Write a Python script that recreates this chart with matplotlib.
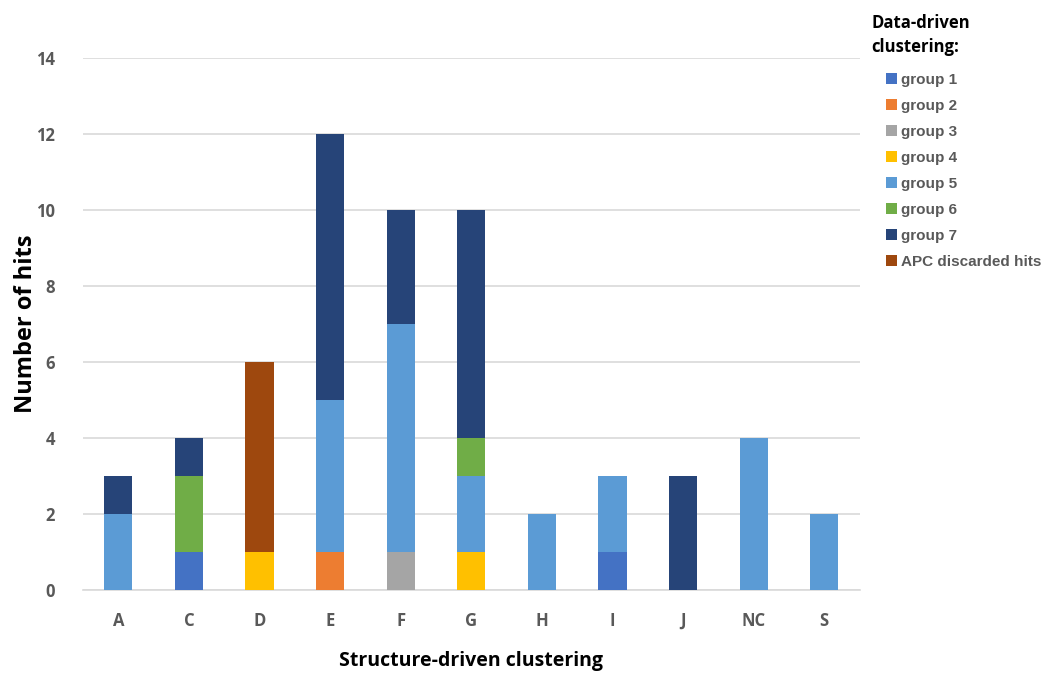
import matplotlib
matplotlib.use("Agg")
import matplotlib.pyplot as plt
from matplotlib.patches import Patch
import numpy as np

categories = ["A", "C", "D", "E", "F", "G", "H", "I", "J", "NC", "S"]
series_names = ["group 1", "group 2", "group 3", "group 4", "group 5", "group 6", "group 7", "APC discarded hits"]
group1 = [0, 1, 0, 0, 0, 0, 0, 1, 0, 0, 0]
group2 = [0, 0, 0, 1, 0, 0, 0, 0, 0, 0, 0]
group3 = [0, 0, 0, 0, 1, 0, 0, 0, 0, 0, 0]
group4 = [0, 0, 1, 0, 0, 1, 0, 0, 0, 0, 0]
group5 = [2, 0, 0, 4, 6, 2, 2, 2, 0, 4, 2]
group6 = [0, 2, 0, 0, 0, 1, 0, 0, 0, 0, 0]
group7 = [1, 1, 0, 7, 3, 6, 0, 0, 3, 0, 0]
apc = [0, 0, 5, 0, 0, 0, 0, 0, 0, 0, 0]
colors = ["#4472C4", "#ED7D31", "#A5A5A5", "#FFC000", "#5B9BD5", "#70AD47", "#264478", "#9E480E"]
yticks = [0, 2, 4, 6, 8, 10, 12, 14]

series = [group1, group2, group3, group4, group5, group6, group7, apc]

fig = plt.figure(figsize=(10.56, 6.75), dpi=100)
ax = fig.add_axes([0.0786, 0.126, 0.7354, 0.788])

x = np.arange(len(categories))
bottom = np.zeros(len(categories))
for name, vals, c in zip(series_names, series, colors):
    v = np.array(vals, dtype=float)
    ax.bar(x, v, width=0.4, bottom=bottom, color=c, label=name, zorder=3, linewidth=0)
    bottom += v

ax.set_xlim(-0.5, len(categories) - 0.5)
ax.set_ylim(0, 14)
ax.set_yticks(yticks)
ax.set_xticks(x)
ax.set_xticklabels(categories)
for s in ["top", "right", "left"]:
    ax.spines[s].set_visible(False)
ax.spines["bottom"].set_color("#D9D9D9")
ax.spines["bottom"].set_linewidth(1.2)
ax.grid(axis="y", color="#D9D9D9", linewidth=1.2, zorder=0)
ax.tick_params(axis="both", length=0, labelsize=12, labelcolor="#595959")
ax.tick_params(axis="y", pad=20)
ax.tick_params(axis="x", pad=16)
for lab in ax.get_xticklabels() + ax.get_yticklabels():
    lab.set_fontfamily("Open Sans")
    lab.set_fontweight("bold")

ax.set_ylabel("Number of hits", fontsize=17, fontweight="bold", family="Open Sans")
ax.yaxis.set_label_coords(-0.058, 0.5)
ax.set_xlabel("Structure-driven clustering", fontsize=14, fontweight="bold", family="Open Sans")
ax.xaxis.set_label_coords(0.5, -0.115)

fig.text(0.825, 0.98, "Data-driven\nclustering:", fontsize=12, fontweight="bold",
         family="Open Sans", va="top", ha="left", linespacing=1.45)

handles = [Patch(facecolor=c, edgecolor="none") for c in colors]
leg = fig.legend(handles, series_names, loc="upper left", bbox_to_anchor=(0.826, 0.912),
                 frameon=False, handlelength=0.7, handleheight=0.7, handletextpad=0.3,
                 labelspacing=0.78, prop={"family": "Liberation Sans", "weight": "bold", "size": 11})
for t in leg.get_texts():
    t.set_color("#595959")

fig.savefig("out.png", dpi=100)
